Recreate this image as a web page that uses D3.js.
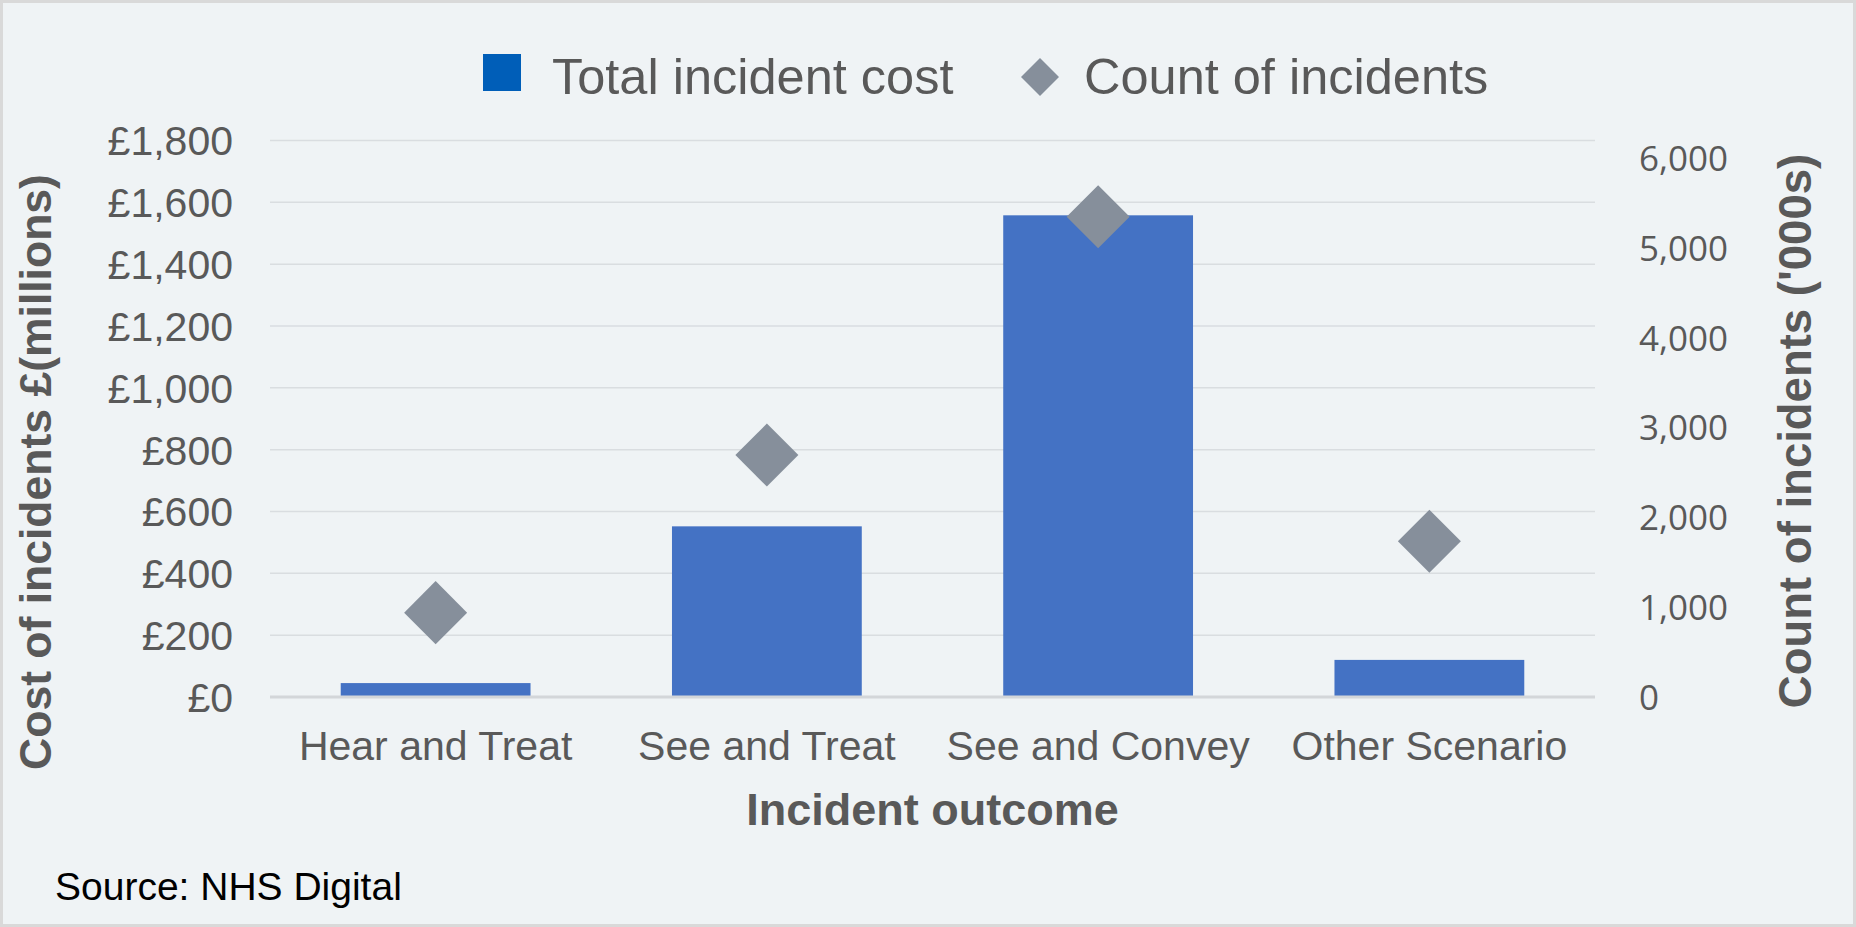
<!DOCTYPE html>
<html>
<head>
<meta charset="utf-8">
<script src="https://cdn.jsdelivr.net/npm/d3@7"></script>
<style>
  html, body { margin: 0; padding: 0; background: #eff3f5; }
  svg { display: block; }
</style>
</head>
<body>
<svg id="chart" width="1856" height="927"></svg>
<script>
// ---- Data ----
const categories = ["Hear and Treat", "See and Treat", "See and Convey", "Other Scenario"];
const costMillions = [45, 552, 1558, 120];          // Total incident cost (£ millions)
const countThousands = [940, 2695, 5350, 1735];     // Count of incidents ('000s)
const leftTicks = [0, 200, 400, 600, 800, 1000, 1200, 1400, 1600, 1800];
const rightTicks = [0, 1000, 2000, 3000, 4000, 5000, 6000];
const seriesNames = ["Total incident cost", "Count of incidents"];

// ---- Layout ----
const W = 1856, H = 927;
const plot = { left: 270, right: 1595, top: 140.5, bottom: 697 };
const textGrey = "#595959";
const barColor = "#4472c4";
const diamondColor = "#868f9b";

const svg = d3.select("#chart");

// background + frame
svg.append("rect").attr("x", 1.5).attr("y", 1.5).attr("width", W - 3).attr("height", H - 3)
  .attr("fill", "#eff3f5").attr("stroke", "#d9d9d9").attr("stroke-width", 3);

// scales
const x = d3.scaleBand().domain(categories).range([plot.left, plot.right])
  .paddingInner(0.427).paddingOuter(0.2135);
const yL = d3.scaleLinear().domain([0, 1800]).range([plot.bottom, plot.top]);
const yR = d3.scaleLinear().domain([0, 6200]).range([plot.bottom, plot.top]);

// gridlines
svg.append("g").selectAll("line").data(leftTicks.filter(d => d > 0)).join("line")
  .attr("x1", plot.left).attr("x2", plot.right)
  .attr("y1", d => yL(d)).attr("y2", d => yL(d))
  .attr("stroke", "#d9dde0").attr("stroke-width", 1.5);

// left axis labels
const axL = svg.append("g").attr("transform", `translate(${plot.left - 37},0)`)
  .call(d3.axisLeft(yL).tickValues(leftTicks).tickSize(0).tickPadding(0)
    .tickFormat(d => "£" + d3.format(",")(d)));
axL.select(".domain").remove();
axL.selectAll("text").attr("font-family", "'Liberation Sans', Arial, sans-serif")
  .attr("font-size", 41).attr("fill", textGrey).attr("dy", "0.35em");

// right axis labels
const axR = svg.append("g").attr("transform", `translate(1639,0)`)
  .call(d3.axisRight(yR).tickValues(rightTicks).tickSize(0).tickPadding(0)
    .tickFormat(d3.format(",")));
axR.select(".domain").remove();
axR.selectAll("text").attr("font-family", "'Open Sans', 'Noto Sans', sans-serif")
  .attr("font-size", 35).attr("fill", textGrey).attr("dy", "0.35em");

// bars
svg.append("g").selectAll("rect").data(categories).join("rect")
  .attr("x", d => x(d)).attr("width", x.bandwidth())
  .attr("y", (d, i) => yL(costMillions[i]))
  .attr("height", (d, i) => yL(0) - yL(costMillions[i]))
  .attr("fill", barColor);

// x baseline
svg.append("line").attr("x1", plot.left).attr("x2", plot.right)
  .attr("y1", plot.bottom).attr("y2", plot.bottom)
  .attr("stroke", "#d3d6d9").attr("stroke-width", 3);

// diamonds
const diamond = d3.symbol().type(d3.symbolSquare).size(1985);
svg.append("g").selectAll("path").data(categories).join("path")
  .attr("d", diamond)
  .attr("transform", (d, i) => `translate(${x(d) + x.bandwidth() / 2},${yR(countThousands[i])}) rotate(45)`)
  .attr("fill", diamondColor);

// x axis labels
const axX = svg.append("g").attr("transform", `translate(0,${plot.bottom})`)
  .call(d3.axisBottom(x).tickSize(0).tickPadding(0));
axX.select(".domain").remove();
axX.selectAll("text").attr("font-family", "'Liberation Sans', Arial, sans-serif")
  .attr("font-size", 41).attr("fill", textGrey).attr("dy", null).attr("y", 63);

// axis titles
svg.append("text").attr("x", 932.5).attr("y", 825).attr("text-anchor", "middle")
  .attr("font-family", "'Liberation Sans', Arial, sans-serif").attr("font-weight", "bold")
  .attr("font-size", 45).attr("fill", textGrey).text("Incident outcome");

svg.append("text").attr("transform", "translate(51,472) rotate(-90)").attr("text-anchor", "middle")
  .attr("font-family", "'Liberation Sans', Arial, sans-serif").attr("font-weight", "bold")
  .attr("font-size", 44.5).attr("fill", textGrey).text("Cost of incidents £(millions)");

svg.append("text").attr("transform", "translate(1811,431) rotate(-90)").attr("text-anchor", "middle")
  .attr("font-family", "'Liberation Sans', Arial, sans-serif").attr("font-weight", "bold")
  .attr("font-size", 45.5).attr("fill", textGrey).text("Count of incidents ('000s)");

// legend
const lg = svg.append("g");
lg.append("rect").attr("x", 483).attr("y", 54).attr("width", 38).attr("height", 37).attr("fill", "#005eb8");
lg.append("text").attr("x", 552).attr("y", 94)
  .attr("font-family", "'Liberation Sans', Arial, sans-serif").attr("font-size", 50.5)
  .attr("fill", textGrey).text(seriesNames[0]);
lg.append("path").attr("d", d3.symbol().type(d3.symbolSquare).size(720))
  .attr("transform", "translate(1040,77) rotate(45)").attr("fill", diamondColor);
lg.append("text").attr("x", 1084).attr("y", 94)
  .attr("font-family", "'Liberation Sans', Arial, sans-serif").attr("font-size", 50.5)
  .attr("fill", textGrey).text(seriesNames[1]);

// source
svg.append("text").attr("x", 55).attr("y", 900)
  .attr("font-family", "'Liberation Sans', Arial, sans-serif").attr("font-size", 39)
  .attr("fill", "#000").text("Source: NHS Digital");
</script>
</body>
</html>
